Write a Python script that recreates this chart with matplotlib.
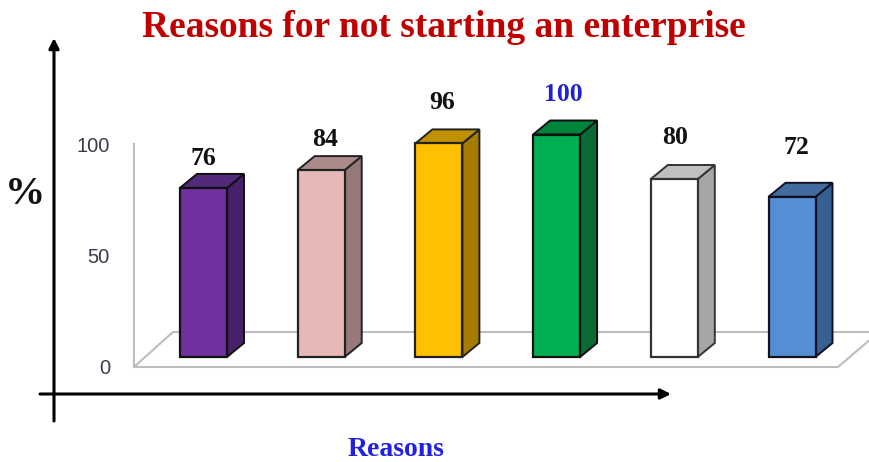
import matplotlib.pyplot as plt
from matplotlib.patches import Polygon

values = [76, 84, 96, 100, 80, 72]
fronts = ['#7030A0', '#E6B9B8', '#FFC000', '#00B050', '#FFFFFF', '#558ED5']
sides = ['#47206B', '#957A79', '#A67C00', '#0B6B35', '#A6A6A6', '#375F92']
tops = ['#53297A', '#AC8A89', '#BF9000', '#00843C', '#BFBFBF', '#426C9F']
edges = ['#111111', '#222222', '#222222', '#111111', '#333333', '#111122']
value_colors = ['#111111', '#111111', '#111111', '#2222CC', '#111111', '#111111']
wall_ticks = [0, 50, 100]

# pixels per category and per percent on the 869x462 canvas
PX_X = 117.7
PX_Y = 2.225
X0 = 203.5
Y0 = 357

# raise and shift of each value label, in pixels
label_dx = [0, 4, 3, 7, 1, 4]
label_dy = [29, 31, 41, 40, 42, 49]


def px(x, y):
    # canvas pixel to data position
    return (x - X0) / PX_X, (Y0 - y) / PX_Y


fig = plt.figure(figsize=(8.69, 4.62), dpi=100)
ax = fig.add_axes([0, 0, 1, 1])
ax.set_xlim(px(0, 0)[0], px(869, 0)[0])
ax.set_ylim(px(0, 462)[1], px(0, 0)[1])
ax.axis('off')

serif = 'Liberation Serif'
width = 47 / PX_X
dx = 17 / PX_X
dy = 14 / PX_Y

# floor and back wall
floor = '#BDBDBD'
ax.plot(*zip(px(134, 144), px(134, 367), px(838, 367), px(872, 338)),
        color=floor, lw=1.5, zorder=1)
ax.plot(*zip(px(134, 367), px(173, 332), px(869, 332)), color=floor, lw=1.5, zorder=1)

for i, v in enumerate(values):
    left = i - width / 2
    right = i + width / 2
    ax.bar(i, v, width, color=fronts[i], edgecolor=edges[i], lw=1.6, zorder=3)
    ax.add_patch(Polygon([(right, 0), (right + dx, dy), (right + dx, v + dy), (right, v)],
                         facecolor=sides[i], edgecolor=edges[i], lw=1.4, zorder=2))
    ax.add_patch(Polygon([(left, v), (left + dx, v + dy), (right + dx, v + dy), (right, v)],
                         facecolor=tops[i], edgecolor=edges[i], lw=1.4, zorder=2))
    ax.text(i + label_dx[i] / PX_X, v + label_dy[i] / PX_Y, str(v), color=value_colors[i],
            family=serif, weight='bold', fontsize=18.5, ha='center', va='center')

# wall tick labels sit 10 px lower than the bars
for t in wall_ticks:
    ax.text(px(110, 0)[0], t - 12 / PX_Y, str(t), color='#3A3A4A', family='Liberation Sans',
            fontsize=14.5, ha='right', va='center')

# hand drawn style axes
arrow = dict(arrowstyle='-|>,head_width=0.3,head_length=0.6', color='black', lw=2.2,
             shrinkA=0, shrinkB=0)
ax.annotate('', xy=px(54, 38), xytext=px(54, 421), arrowprops=arrow, zorder=4)
ax.annotate('', xy=px(671, 394), xytext=px(40, 394), arrowprops=arrow, zorder=4)

x, y = px(444, 28)
ax.text(x, y, 'Reasons for not starting an enterprise', color='#C00000', family=serif,
        weight='bold', fontsize=27, ha='center', va='center')
x, y = px(25, 194)
ax.text(x, y, '%', color='#111111', family=serif, weight='bold', fontsize=29, ha='center', va='center')
x, y = px(396, 449)
ax.text(x, y, 'Reasons', color='#2222DD', family=serif, weight='bold', fontsize=20, ha='center', va='center')

fig.savefig('out.png', dpi=100)
